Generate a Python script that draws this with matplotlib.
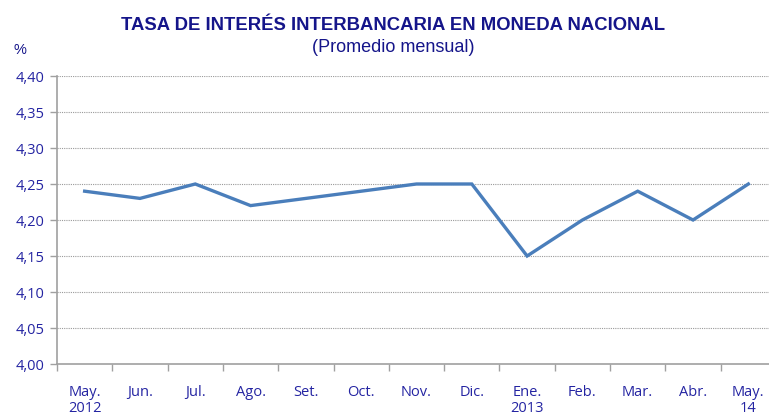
import matplotlib
matplotlib.use("Agg")
import matplotlib.pyplot as plt
from matplotlib.ticker import FixedLocator, NullFormatter

categories = ["May.\n2012", "Jun.", "Jul.", "Ago.", "Set.", "Oct.", "Nov.", "Dic.",
              "Ene.\n2013", "Feb.", "Mar.", "Abr.", "May.\n14"]
values = [4.24, 4.23, 4.25, 4.22, 4.23, 4.24, 4.25, 4.25, 4.15, 4.20, 4.24, 4.20, 4.25]
yticks = [4.00, 4.05, 4.10, 4.15, 4.20, 4.25, 4.30, 4.35, 4.40]
ytick_labels = ["4,00", "4,05", "4,10", "4,15", "4,20", "4,25", "4,30", "4,35", "4,40"]

label_color = "#2424A2"
title_color = "#15158A"
grey = "#A0A0A0"

fig = plt.figure(figsize=(7.69, 4.17), dpi=100)
ax = fig.add_axes([57/769, 1-364/417, (776-57)/769, (364-76)/417])

x = list(range(len(categories)))
ax.plot(x, values, color="#4A7EBB", lw=2.4, solid_joinstyle="miter", clip_on=False)

ax.set_xlim(-0.5, len(categories) - 0.5)
ax.set_ylim(4.00, 4.40)
ax.set_yticks(yticks)
ax.set_yticklabels(ytick_labels)
for yv in yticks[1:]:
    ax.axhline(yv, color="#9A9A9A", lw=0.8, ls=(0, (1, 1)), zorder=0)

ax.set_xticks(x)
ax.set_xticklabels(categories, va="top", linespacing=1.1)
ax.xaxis.set_minor_locator(FixedLocator([i - 0.5 for i in range(len(categories) + 1)]))
ax.xaxis.set_minor_formatter(NullFormatter())
ax.tick_params(axis="x", which="major", length=0, pad=15, labelsize=10.5,
               labelcolor=label_color)
ax.tick_params(axis="x", which="minor", length=5, width=1, color=grey, direction="out")
ax.tick_params(axis="y", length=5, width=1, color=grey, direction="out", pad=4,
               labelsize=10.5, labelcolor=label_color)
for lab in ax.get_xticklabels() + ax.get_yticklabels():
    lab.set_family(["Open Sans", "DejaVu Sans"])

for s in ["top", "right"]:
    ax.spines[s].set_visible(False)
ax.spines["left"].set_color(grey)
ax.spines["bottom"].set_color(grey)
ax.spines["left"].set_linewidth(1.2)
ax.spines["bottom"].set_linewidth(1.2)

fig.text(393/769, 1-25/417, "TASA DE INTERÉS INTERBANCARIA EN MONEDA NACIONAL",
         ha="center", va="center", fontsize=13.3, fontweight="bold", color=title_color,
         family=["Liberation Sans Narrow", "Liberation Sans", "DejaVu Sans"])
fig.text(393/769, 1-47/417, "(Promedio mensual)", ha="center", va="center",
         fontsize=13, color=title_color,
         family=["Liberation Sans Narrow", "Liberation Sans", "DejaVu Sans"])
fig.text(20/769, 1-50/417, "%", ha="center", va="center", fontsize=10.5,
         color=title_color, family=["Liberation Sans Narrow", "Liberation Sans"])

fig.savefig("out.png", dpi=100)
